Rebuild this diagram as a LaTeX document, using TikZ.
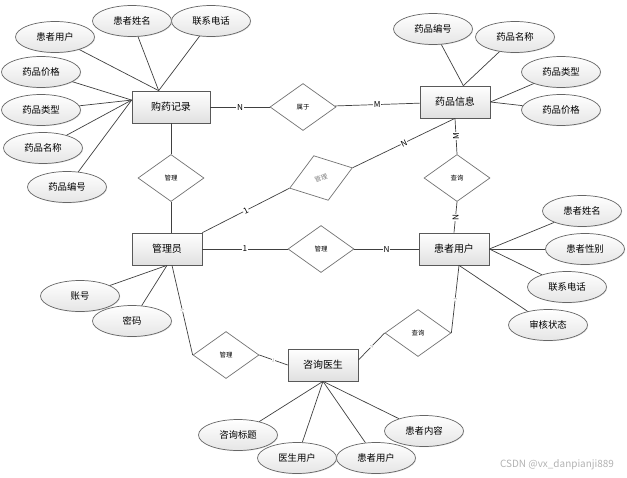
\documentclass[tikz,border=0pt]{standalone}
\usepackage{fontspec}
\setmainfont{Noto Sans CJK SC}
\usetikzlibrary{shapes,shadows,calc}
\tikzstyle{entity} = [
rectangle,
minimum width=2.1cm,
minimum height=0.96cm,
draw=black!65,
top color=white,
bottom color=black!12,
font=\fontsize{8.5}{10}\selectfont,
drop shadow={shadow xshift=0.8pt,shadow yshift=-0.8pt,opacity=0.35}
]
\tikzstyle{attr} = [
ellipse,
inner sep=0pt,
minimum width=2.37cm,
minimum height=0.93cm,
draw=black!60,
top color=white,
bottom color=black!10,
font=\fontsize{8}{9}\selectfont,
drop shadow={shadow xshift=0.6pt,shadow yshift=-0.6pt,opacity=0.25}
]
\tikzstyle{rel} = [
diamond,
aspect=1.4,
inner sep=0pt,
minimum width=1.98cm,
minimum height=1.41cm,
draw=black!55,
fill=white,
font=\fontsize{5.5}{6}\selectfont
]
\tikzstyle{lbl} = [
fill=white,
inner sep=0.5pt,
font=\fontsize{7}{8}\selectfont
]
\tikzstyle{tinylbl} = [
fill=white,
inner sep=0.3pt,
text=black!45,
font=\fontsize{3.5}{4}\selectfont
]
\begin{document}
\begin{tikzpicture}[
	x=0.03cm,
	y=-0.03cm,
	align=center,
	line width=0.6pt,
	every edge/.append style={draw=black!75}
	]
	\useasboundingbox (0,0) rectangle (627,477);
	
	% entities
	\node[entity,minimum width=2.34cm] (gyjl) at (171,107) {购药记录};
	\node[entity] (ypxx) at (455,102) {药品信息};
	\node[entity] (gly) at (167,249) {管理员};
	\node[entity] (hzyh) at (454,249) {患者用户};
	\node[entity] (zxys) at (323,365) {咨询医生};
	
	% relations
	\node[rel] (sy) at (303,107) {属于};
	\node[rel] (gl1) at (171,178) {管理};
	\node[rel,rotate=18,text=black!50] (gl2) at (321,178) {管理};
	\node[rel] (cx1) at (457,178) {查询};
	\node[rel] (gl3) at (321,249) {管理};
	\node[rel] (gl4) at (226,355) {管理};
	\node[rel] (cx2) at (418,333) {查询};
	
	% attributes
	\node[attr] (jyhz) at (55,37) {患者用户};
	\node[attr] (jyxm) at (132,21) {患者姓名};
	\node[attr] (jydh) at (211,21) {联系电话};
	\node[attr] (jyjg) at (41,72) {药品价格};
	\node[attr] (jylx) at (41,110) {药品类型};
	\node[attr] (jymc) at (43,148) {药品名称};
	\node[attr] (jybh) at (67,187) {药品编号};
	
	\node[attr] (ypbh) at (433,29) {药品编号};
	\node[attr] (ypmc) at (515,37) {药品名称};
	\node[attr] (yplx) at (561,72) {药品类型};
	\node[attr] (ypjg) at (561,110) {药品价格};
	
	\node[attr] (hzxm) at (582,211) {患者姓名};
	\node[attr] (hzxb) at (585,249) {患者性别};
	\node[attr] (hzdh) at (567,287) {联系电话};
	\node[attr] (hzzt) at (548,325) {审核状态};
	
	\node[attr] (zh) at (80,296) {账号};
	\node[attr] (mm) at (132,321) {密码};
	
	\node[attr] (zxbt) at (238,435) {咨询标题};
	\node[attr] (ysyh) at (297,458) {医生用户};
	\node[attr] (zxhz) at (376,458) {患者用户};
	\node[attr] (zxnr) at (424,431) {患者内容};
	
	\node[text=black!30,font=\fontsize{8.5}{10}\selectfont] (wm) at (557,465) {CSDN @vx\_danpianji889};
	
	% attribute lines
	\path (gyjl.127) edge (jyhz) edge (jyxm) edge (jydh);
	\path (gyjl.170) edge (jyjg) edge (jylx) edge (jymc) edge (jybh);
	\path (ypxx.63) edge (ypbh) edge (ypmc);
	\path (ypxx.east) edge (yplx) edge (ypjg);
	\path (hzyh.east) edge (hzxm) edge (hzxb) edge (hzdh);
	\path (hzyh.287) edge (hzzt);
	\path (gly.south) edge (zh) edge (mm);
	\path (zxys.south) edge (zxbt) edge (ysyh) edge (zxhz) edge (zxnr);
	
	% relation lines
	\path (gyjl) edge node[lbl] {N} (sy);
	\path (sy) edge node[lbl] {M} (ypxx);
	\path (gyjl) edge (gl1);
	\path (gl1.south) edge (gly.north -| gl1.south);
	\path (gly.north east) edge node[lbl,sloped] {1} (gl2.west);
	\path (gl2.east) edge node[lbl,sloped] {N} (ypxx.south);
	\path (ypxx.south) edge node[lbl,rotate=90] {M} (cx1.north);
	\path (cx1.south) edge node[lbl,rotate=90] {N} (hzyh.north);
	\path (gly) edge node[lbl] {1} (gl3);
	\path (gl3) edge node[lbl] {N} (hzyh);
	\path (gly.287) edge node[tinylbl,sloped] {1} (gl4.west);
	\path (gl4.east) edge node[tinylbl,sloped] {1} (zxys.west);
	\path (zxys.8) edge node[tinylbl,sloped] {1} (cx2.west);
	\path (cx2.east) edge node[tinylbl,sloped] {1} (hzyh.287);
\end{tikzpicture}
\end{document}
